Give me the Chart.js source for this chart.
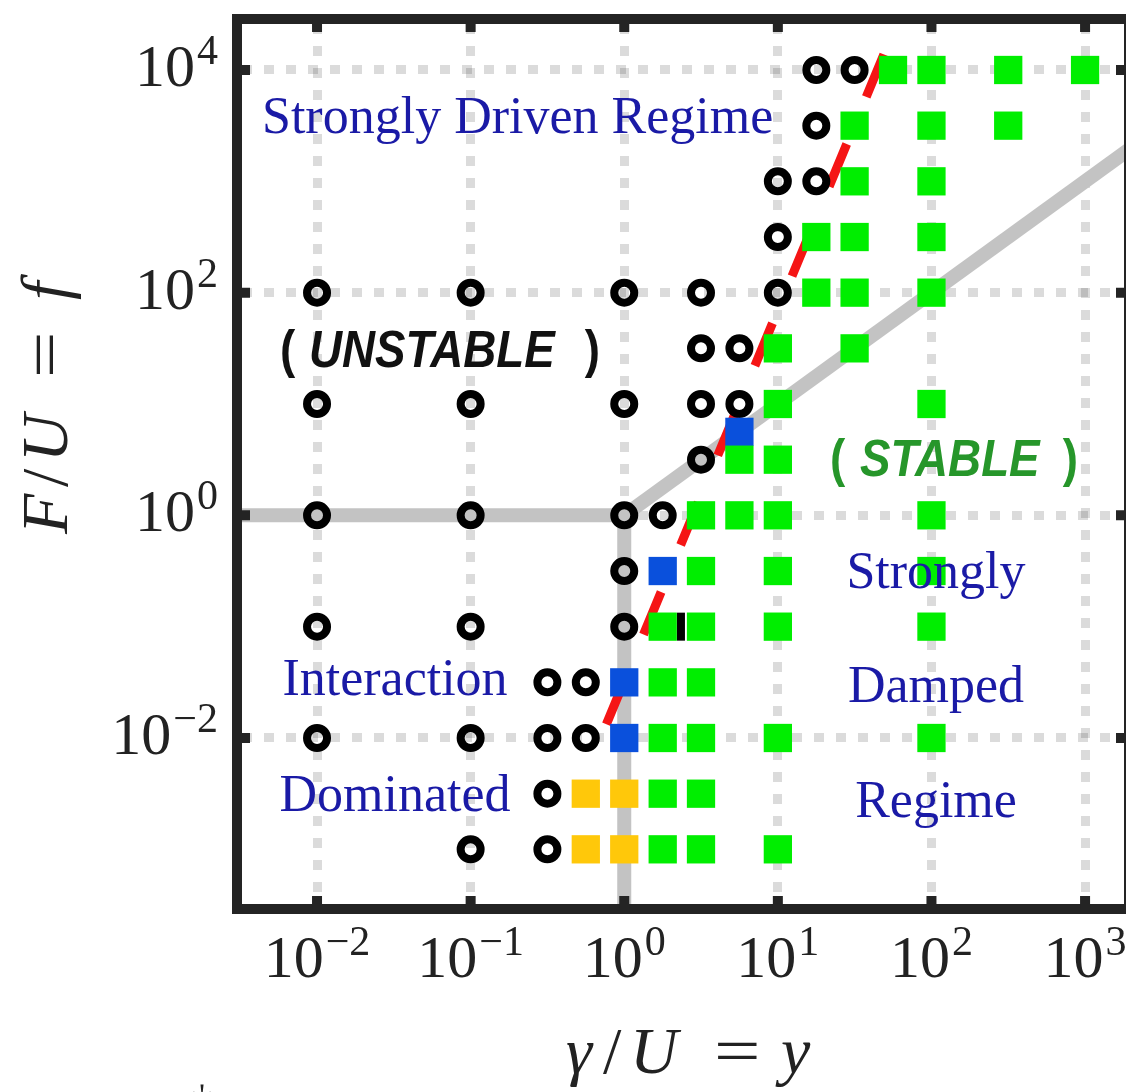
<!DOCTYPE html>
<html><head><meta charset="utf-8">
<script src="https://cdn.jsdelivr.net/npm/chart.js@4.4.1/dist/chart.umd.min.js"></script>
<style>
html,body{margin:0;padding:0;overflow:hidden;background:#fff;width:1126px;height:1092px;}
canvas{display:block;}
</style></head><body>
<canvas id="c" width="1134" height="1092" style="width:1134px;height:1092px"></canvas>
<script>
// ---------- tick labels ----------
const xTickValues = [0.01, 0.1, 1, 10, 100, 1000];
const xTickExponents = ['\u22122', '\u22121', '0', '1', '2', '3'];
const yTickValues = [0.01, 1, 100, 10000];
const yTickExponents = ['\u22122', '0', '2', '4'];

// ---------- data: unstable (open circles) ----------
const unstableX = [17.8, 31.6, 17.8, 10, 17.8, 10,
  0.01, 0.1, 1, 3.16, 10, 3.16, 5.62,
  0.01, 0.1, 1, 3.16, 5.62, 3.16,
  0.01, 0.1, 1, 1.78, 1,
  0.01, 0.1, 1, 0.316, 0.562,
  0.01, 0.1, 0.316, 0.562, 0.316, 0.1, 0.316];
const unstableY = [10000, 10000, 3162, 1000, 1000, 316,
  100, 100, 100, 100, 100, 31.6, 31.6,
  10, 10, 10, 10, 10, 3.16,
  1, 1, 1, 1, 0.316,
  0.1, 0.1, 0.1, 0.0316, 0.0316,
  0.01, 0.01, 0.01, 0.01, 0.00316, 0.001, 0.001];

// ---------- data: stable (green squares) ----------
const stableX = [56.2, 100, 316, 1000, 31.6, 100, 316, 31.6, 100,
  17.8, 31.6, 100, 17.8, 31.6, 100, 10, 31.6, 10, 100, 5.62, 10,
  3.16, 5.62, 10, 100, 3.16, 10, 100, 1.78, 3.16, 10, 100,
  1.78, 3.16, 1.78, 3.16, 10, 100, 1.78, 3.16, 1.78, 3.16, 10];
const stableY = [10000, 10000, 10000, 10000, 3162, 3162, 3162, 1000, 1000,
  316, 316, 316, 100, 100, 100, 31.6, 31.6, 10, 10, 3.16, 3.16,
  1, 1, 1, 1, 0.316, 0.316, 0.316, 0.1, 0.1, 0.1, 0.1,
  0.0316, 0.0316, 0.01, 0.01, 0.01, 0.01, 0.00316, 0.00316, 0.001, 0.001, 0.001];

// ---------- data: marginal (blue squares) ----------
const marginalX = [5.62, 1.78, 1, 1];
const marginalY = [5.62, 0.316, 0.0316, 0.01];

// ---------- data: interaction (yellow squares) ----------
const interactX = [0.562, 1, 0.562, 1];
const interactY = [0.00316, 0.00316, 0.001, 0.001];

// ---------- data: special mark ----------
const barX = [2.34];
const barY = [0.1];

// ---------- regime boundaries ----------
const boundaryX = [0.001, 1, 1];
const boundaryY = [1, 1, 0.0001];
const diagX = [1, 3000];
const diagY = [1, 3000];
const criticalX = [0.765, 49.4];
const criticalY = [0.0133, 14200];

const pts = (xs, ys) => xs.map((x, i) => ({x: x, y: ys[i]}));

const SERIF = "'Liberation Serif', 'Times New Roman', serif";
const SANS = "'Liberation Sans', Arial, sans-serif";

function drawMath(ctx, pieces, size) {
  pieces.forEach(p => {
    ctx.save();
    ctx.translate(p.at, 0);
    if (p.sx) ctx.scale(p.sx, 1);
    ctx.font = (p.it ? 'italic ' : '') + size + 'px ' + SERIF;
    ctx.fillText(p.t, 0, 0);
    ctx.restore();
  });
}

const decor = {
  id: 'decor',
  afterDatasetsDraw(chart) {
    const {ctx, chartArea: a, scales: {x, y}} = chart;
    ctx.save();
    // annotations
    ctx.textBaseline = 'alphabetic';
    ctx.fillStyle = '#1a1aa6';
    ctx.font = '52px ' + SERIF;
    ctx.textAlign = 'left';
    ctx.fillText('Strongly Driven Regime', 262, 133);
    ctx.textAlign = 'center';
    ctx.fillText('Interaction', 395, 695);
    ctx.fillText('Dominated', 395, 811);
    ctx.fillText('Strongly', 936, 588);
    ctx.fillText('Damped', 936, 702);
    ctx.fillText('Regime', 936, 817);

    const boldLabel = (color, lp, word, wordLeft, rp, base) => {
      ctx.fillStyle = color;
      ctx.textAlign = 'left';
      ctx.save();
      ctx.translate(lp, base); ctx.scale(0.88, 1);
      ctx.font = 'bold 52px ' + SANS;
      ctx.fillText('(', 0, 0);
      ctx.restore();
      ctx.save();
      ctx.translate(wordLeft, base); ctx.scale(0.88, 1);
      ctx.font = 'italic bold 52px ' + SANS;
      ctx.fillText(word, 0, 0);
      ctx.restore();
      ctx.save();
      ctx.translate(rp, base); ctx.scale(0.88, 1);
      ctx.font = 'bold 52px ' + SANS;
      ctx.textAlign = 'right';
      ctx.fillText(')', 0, 0);
      ctx.restore();
    };
    boldLabel('#111111', 280, 'UNSTABLE', 309, 600, 367);
    boldLabel('#26962a', 830, 'STABLE', 860, 1078, 476);

    // frame
    ctx.strokeStyle = '#242424';
    ctx.lineWidth = 10;
    ctx.lineJoin = 'miter';
    ctx.strokeRect(a.left, a.top, a.right - a.left, a.bottom - a.top);
    // inward ticks
    ctx.beginPath();
    const tl = 13;
    xTickValues.forEach(v => {
      const px = x.getPixelForValue(v);
      ctx.moveTo(px, a.bottom); ctx.lineTo(px, a.bottom - tl);
      ctx.moveTo(px, a.top); ctx.lineTo(px, a.top + tl);
    });
    yTickValues.forEach(v => {
      const py = y.getPixelForValue(v);
      ctx.moveTo(a.left, py); ctx.lineTo(a.left + tl, py);
      ctx.moveTo(a.right, py); ctx.lineTo(a.right - tl, py);
    });
    ctx.lineWidth = 10;
    ctx.stroke();

    // tick labels
    ctx.fillStyle = '#222222';
    ctx.textAlign = 'left';
    const mainF = '60px ' + SERIF, supF = '42px ' + SERIF;
    xTickValues.forEach((v, i) => {
      const px = x.getPixelForValue(v);
      ctx.font = mainF; const w1 = ctx.measureText('10').width;
      ctx.font = supF; const w2 = ctx.measureText(xTickExponents[i]).width;
      const left = px - (w1 + w2 + 2) / 2;
      ctx.font = mainF; ctx.fillText('10', left, 977);
      ctx.font = supF; ctx.fillText(xTickExponents[i], left + w1 + 2, 955);
    });
    yTickValues.forEach((v, i) => {
      const py = y.getPixelForValue(v);
      ctx.font = supF; const w2 = ctx.measureText(yTickExponents[i]).width;
      ctx.font = mainF; const w1 = ctx.measureText('10').width;
      const right = 218;
      ctx.font = mainF; ctx.fillText('10', right - w2 - 2 - w1, py + 16);
      ctx.font = supF; ctx.fillText(yTickExponents[i], right - w2, py - 6);
    });

    // axis titles
    ctx.fillStyle = '#222222';
    ctx.save();
    ctx.translate(0, 1073);
    drawMath(ctx, [
      {t: '\u03b3', it: true, at: 566},
      {t: '/', at: 603},
      {t: 'U', it: true, at: 630},
      {t: '=', at: 714, sx: 1.25},
      {t: 'y', it: true, at: 781}
    ], 66);
    ctx.restore();
    ctx.save();
    ctx.translate(67, 532);
    ctx.rotate(-Math.PI / 2);
    drawMath(ctx, [
      {t: 'F', it: true, at: -2},
      {t: '/', at: 45},
      {t: 'U', it: true, at: 70},
      {t: '=', at: 154, sx: 1.25},
      {t: 'f', it: true, at: 232}
    ], 66);
    ctx.restore();

    ctx.font = '40px ' + SERIF;
    ctx.fillStyle = '#222';
    ctx.fillText('\u2020', 192, 1112);
    ctx.restore();
  }
};

const gridOpts = {color: 'rgba(0,0,0,0.14)', lineWidth: 9, drawTicks: false};
const borderOpts = {display: false, dash: [10, 12], dashOffset: 17};

new Chart(document.getElementById('c'), {
  type: 'scatter',
  data: {
    datasets: [
      {type: 'line', label: 'boundary', data: pts(boundaryX, boundaryY), borderColor: '#c3c3c3',
       borderWidth: 14, pointRadius: 0, clip: 0, order: 10, borderJoinStyle: 'miter', tension: 0},
      {type: 'line', label: 'diagonal', data: pts(diagX, diagY), borderColor: '#c3c3c3',
       borderWidth: 14, pointRadius: 0, clip: 0, order: 10, tension: 0},
      {type: 'line', label: 'critical', data: pts(criticalX, criticalY), borderColor: '#f51515',
       borderWidth: 9, borderDash: [46, 51], pointRadius: 0, clip: 0, order: 9, tension: 0},
      {label: 'unstable', data: pts(unstableX, unstableY), pointStyle: 'circle', pointRadius: 10,
       borderWidth: 8, borderColor: '#000000', backgroundColor: 'rgba(0,0,0,0)', order: 3},
      {label: 'stable', data: pts(stableX, stableY), pointStyle: 'rect', pointRadius: 20,
       borderWidth: 0, backgroundColor: '#00ee00', order: 2},
      {label: 'marginal', data: pts(marginalX, marginalY), pointStyle: 'rect', pointRadius: 20,
       borderWidth: 0, backgroundColor: '#0a50dc', order: 2},
      {label: 'interaction', data: pts(interactX, interactY), pointStyle: 'rect', pointRadius: 20,
       borderWidth: 0, backgroundColor: '#ffc80a', order: 2},
      {label: 'mark', data: pts(barX, barY), pointStyle: 'line', rotation: 90, pointRadius: 14,
       borderWidth: 8, borderColor: '#000000', order: 1}
    ]
  },
  options: {
    responsive: false,
    animation: false,
    events: [],
    layout: {autoPadding: false, padding: {top: 19, right: 5, left: 0, bottom: 0}},
    plugins: {legend: {display: false}, tooltip: {enabled: false}},
    scales: {
      x: {
        type: 'logarithmic', position: 'bottom',
        min: Math.pow(10, -2.521), max: Math.pow(10, 3.286),
        afterBuildTicks: s => { s.ticks = xTickValues.map(v => ({value: v})); },
        afterFit: s => { s.height = 183; },
        ticks: {display: false},
        grid: gridOpts, border: borderOpts
      },
      y: {
        type: 'logarithmic', position: 'left',
        min: Math.pow(10, -3.536), max: Math.pow(10, 4.458),
        afterBuildTicks: s => { s.ticks = yTickValues.map(v => ({value: v})); },
        afterFit: s => { s.width = 237; },
        ticks: {display: false},
        grid: gridOpts, border: borderOpts
      }
    }
  },
  plugins: [decor]
});
</script>
</body></html>
